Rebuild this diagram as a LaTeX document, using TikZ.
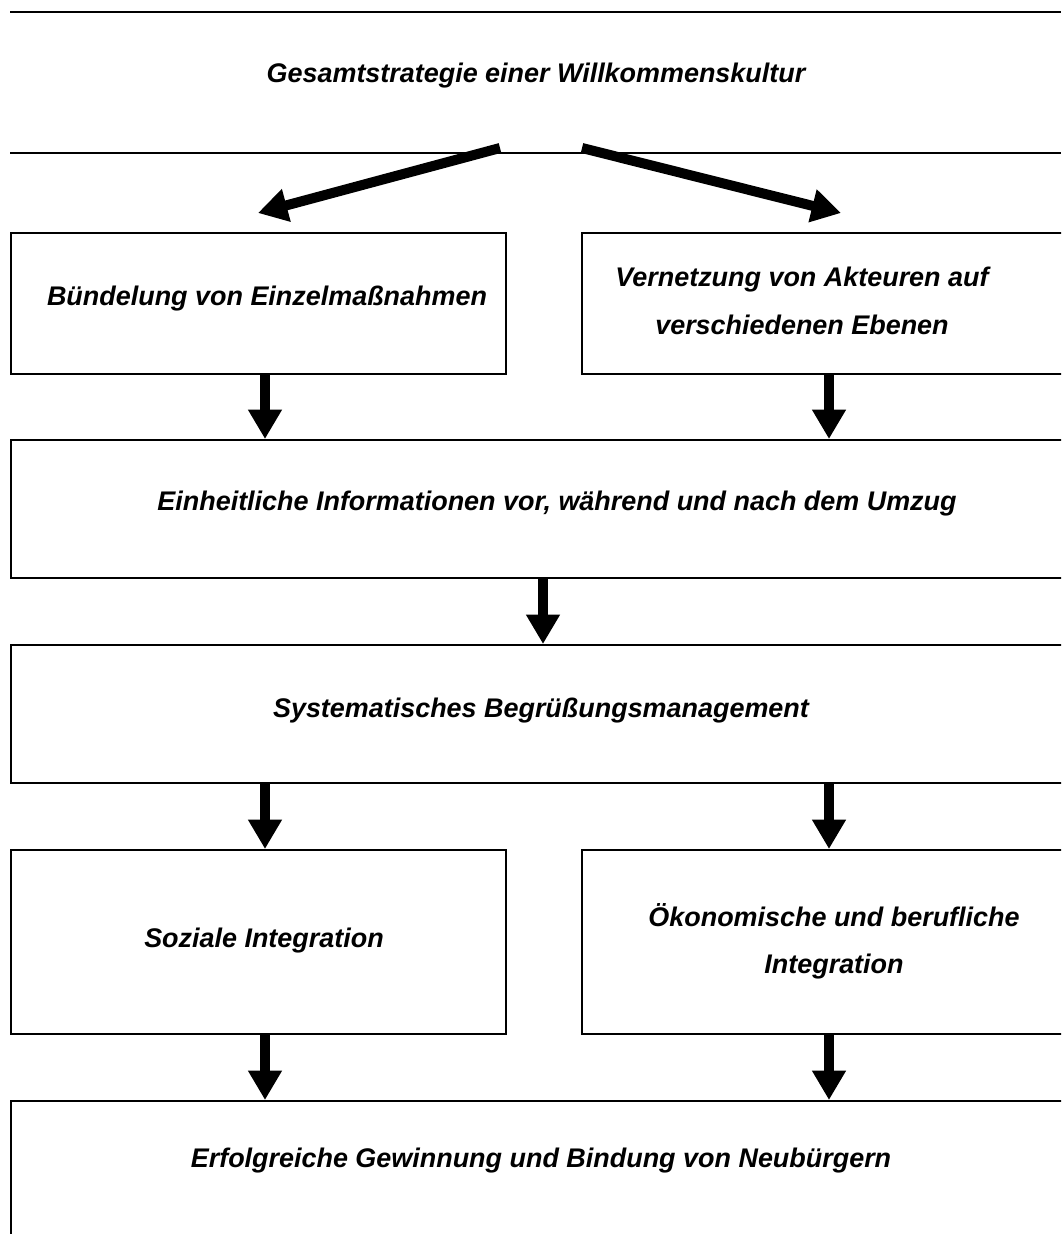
\documentclass[tikz,border=0pt]{standalone}
\usepackage{fontspec}
\setmainfont{Liberation Sans}
\usetikzlibrary{arrows.meta,fit}

\tikzset{
  box/.style={draw, line width=1.5pt, inner sep=0pt},
  rule/.style={line width=1.5pt},
  boxtext/.style={font=\fontsize{20.2}{35.5}\selectfont\bfseries\itshape, align=center, inner sep=0pt},
  fatarrow/.style={line width=7.5pt, -{Triangle[width=24pt,length=22pt]}},
}

\begin{document}
\begin{tikzpicture}[x=0.75pt,y=0.75pt,yscale=-1,xscale=1]
\useasboundingbox (0,0) rectangle (1061,1234);
\clip (0,0) rectangle (1061,1234);

%title band
\draw[rule] (10,12) -- (1061,12);
\draw[rule] (10,153) -- (1061,153);
\node[boxtext] (title) at (536,76) {Gesamtstrategie einer Willkommenskultur};

%boxes
\node[box, fit={(11,233) (506,374)}] (b1) {};
\node[box, fit={(582,233) (1100,374)}] (b2) {};
\node[box, fit={(11,440) (1100,578)}] (b3) {};
\node[box, fit={(11,645) (1100,783)}] (b4) {};
\node[box, fit={(11,850) (506,1034)}] (b5) {};
\node[box, fit={(582,850) (1100,1034)}] (b6) {};
\node[box, fit={(11,1101) (1100,1300)}] (b7) {};

%texts
\node[boxtext] (t1) at (267,299) {Bündelung von Einzelmaßnahmen};
\node[boxtext] (t2) at (802,301) {Vernetzung von Akteuren auf\\verschiedenen Ebenen};
\node[boxtext] (t3) at (557,504) {Einheitliche Informationen vor, während und nach dem Umzug};
\node[boxtext] (t4) at (541,711) {Systematisches Begrüßungsmanagement};
\node[boxtext] (t5) at (264,941) {Soziale Integration};
\node[boxtext] (t6) at (834,941) {Ökonomische und berufliche\\Integration};
\node[boxtext] (t7) at (541,1161) {Erfolgreiche Gewinnung und Bindung von Neubürgern};

%arrows
\coordinate (xl) at (265,0);
\coordinate (xm) at (543,0);
\coordinate (xr) at (829,0);
\coordinate (ls) at (500,148);
\coordinate (lt) at (258,213);
\coordinate (rs) at (582,148);
\coordinate (rt) at (841,213);

\draw[fatarrow] (ls) -- (lt);
\draw[fatarrow] (rs) -- (rt);
\draw[fatarrow] (b1.south -| xl) -- (b3.north -| xl);
\draw[fatarrow] (b2.south -| xr) -- (b3.north -| xr);
\draw[fatarrow] (b3.south -| xm) -- (b4.north -| xm);
\draw[fatarrow] (b4.south -| xl) -- (b5.north -| xl);
\draw[fatarrow] (b4.south -| xr) -- (b6.north -| xr);
\draw[fatarrow] (b5.south -| xl) -- (b7.north -| xl);
\draw[fatarrow] (b6.south -| xr) -- (b7.north -| xr);

\end{tikzpicture}
\end{document}
